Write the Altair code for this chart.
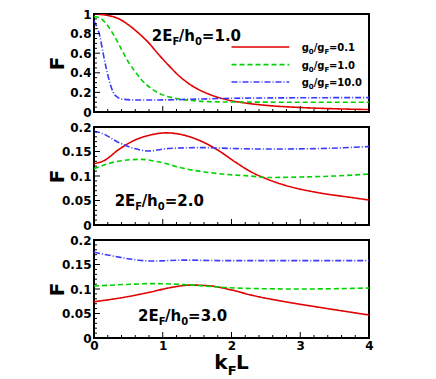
import altair as alt
import pandas as pd

# ---------------- data ----------------
series = ["0.1", "1.0", "10.0"]

x1_red = [0, 0.2, 0.35, 0.5, 0.64, 0.79, 0.93, 1.08, 1.22, 1.42, 1.61, 1.81, 2.0, 2.24, 2.5, 3.0, 3.5, 4.0]
F1_red = [1.0, 0.985, 0.955, 0.89, 0.81, 0.71, 0.595, 0.48, 0.38, 0.27, 0.2, 0.148, 0.115, 0.088, 0.068, 0.046, 0.033, 0.025]
x1_green = [0, 0.107, 0.2, 0.3, 0.4, 0.5, 0.59, 0.69, 0.84, 0.98, 1.18, 1.42, 1.66, 2.0, 3.0, 4.0]
F1_green = [0.975, 0.95, 0.88, 0.77, 0.64, 0.51, 0.42, 0.33, 0.235, 0.18, 0.14, 0.117, 0.106, 0.102, 0.1, 0.1]
x1_blue = [0, 0.034, 0.083, 0.13, 0.18, 0.23, 0.28, 0.35, 0.42, 0.59, 0.93, 1.42, 2.0, 3.0, 4.0]
F1_blue = [0.93, 0.88, 0.78, 0.61, 0.44, 0.30, 0.20, 0.147, 0.13, 0.123, 0.123, 0.13, 0.14, 0.145, 0.147]

x2_red = [0, 0.155, 0.35, 0.59, 0.83, 1.05, 1.32, 1.56, 1.8, 2.05, 2.29, 2.53, 2.78, 3.26, 3.75, 4.0]
F2_red = [0.125, 0.132, 0.153, 0.173, 0.184, 0.188, 0.183, 0.171, 0.153, 0.129, 0.108, 0.093, 0.081, 0.066, 0.056, 0.051]
x2_green = [0, 0.35, 0.69, 0.93, 1.32, 1.8, 2.29, 2.53, 3.02, 3.5, 4.0]
F2_green = [0.115, 0.130, 0.134, 0.129, 0.115, 0.105, 0.0997, 0.097, 0.098, 0.1, 0.104]
x2_blue = [0, 0.1, 0.35, 0.59, 0.79, 1.08, 1.56, 2.05, 2.53, 3.26, 4.0]
F2_blue = [0.191, 0.188, 0.169, 0.156, 0.151, 0.156, 0.158, 0.156, 0.155, 0.156, 0.16]

x3_red = [0, 0.35, 0.83, 1.08, 1.42, 1.71, 2.0, 2.29, 2.78, 3.26, 4.0]
F3_red = [0.074, 0.081, 0.094, 0.102, 0.108, 0.106, 0.098, 0.0875, 0.074, 0.063, 0.047]
x3_green = [0, 0.59, 0.83, 1.32, 1.8, 2.29, 3.02, 4.0]
F3_green = [0.106, 0.11, 0.111, 0.109, 0.104, 0.101, 0.1, 0.102]
x3_blue = [0, 0.25, 0.59, 0.83, 1.32, 1.8, 2.78, 4.0]
F3_blue = [0.175, 0.168, 0.16, 0.157, 0.159, 0.158, 0.158, 0.158]

x_major = [0, 1, 2, 3, 4]
x_minor = [round(i * 0.2, 2) for i in range(21) if i % 5 != 0]
y1_major = [0, 0.2, 0.4, 0.6, 0.8, 1.0]
y1_minor = [round(i * 0.05, 3) for i in range(21) if i % 4 != 0]
y23_major = [0, 0.05, 0.1, 0.15, 0.2]
y23_minor = [round(i * 0.01, 3) for i in range(21) if i % 5 != 0]

panel_params = ["1.0", "2.0", "3.0"]

# ---------------- styling ----------------
FONT = "DejaVu Sans"
W, H = 275, 98
COLORS = ["#e00000", "#00d400", "#3a3aff"]
DASHES = [[1, 0], [5, 3], [6, 2, 1, 2]]
WIDTHS = [1.6, 1.6, 1.3]

# DejaVu Sans Bold advance widths (em)
ADV = {"0": 0.696, "1": 0.696, "2": 0.696, "3": 0.696, ".": 0.380, "=": 0.838,
       "/": 0.365, "E": 0.683, "F": 0.632, "h": 0.712, "g": 0.716, "k": 0.665, "L": 0.637}


def tw(s, size):
    return sum(ADV.get(c, 0.6) for c in s) * size


def panel(idx, xs_list, fs_list, ymax, ymaj, ymin, title_pos, show_x, legend):
    xs = alt.Scale(domain=[0, 4], nice=False, zero=False)
    ys = alt.Scale(domain=[0, ymax], nice=False, zero=False)

    if show_x:
        xaxis = alt.Axis(values=x_major, format="~g", ticks=False, domain=False, grid=False,
                         labelFont=FONT, labelFontSize=12, labelFontWeight="bold",
                         labelColor="black", labelPadding=2, labelFlush=False, title=None)
    else:
        xaxis = None
    yaxis = alt.Axis(values=ymaj, format="~g", ticks=False, domain=False, grid=False,
                     labelFont=FONT, labelFontSize=12, labelFontWeight="bold",
                     labelColor="black", labelPadding=3, labelFlush=False, title="F",
                     titleFont=FONT, titleFontSize=20, titleFontWeight="bold",
                     titleColor="black", titleX=-27, titleY=H / 2)

    def X(field):
        return alt.X(field, scale=xs, axis=xaxis)

    def Y(field):
        return alt.Y(field, scale=ys, axis=yaxis)

    def rich(segs, x, y, size, sub_size, sub_dy, center=False, ypix=None):
        total = sum(tw(t, sub_size if s else size) for t, s in segs)
        off = -total / 2 if center else 0
        out = []
        df = pd.DataFrame({"x": [x], "y": [y]})
        for t, s in segs:
            fs = sub_size if s else size
            enc = dict(x=X("x:Q"))
            enc["y"] = Y("y:Q") if ypix is None else alt.value(ypix)
            out.append(
                alt.Chart(df).mark_text(
                    text=t, align="left", baseline="alphabetic", dx=off,
                    dy=sub_dy if s else 0, font=FONT, fontSize=fs,
                    fontWeight="bold", color="black",
                ).encode(**enc)
            )
            off += tw(t, fs)
        return out

    rows = []
    for s, xv, fv in zip(series, xs_list, fs_list):
        for a, b in zip(xv, fv):
            rows.append({"s": s, "x": a, "F": b})
    df = pd.DataFrame(rows)
    col = alt.Color("s:N", scale=alt.Scale(domain=series, range=COLORS), legend=None)
    dash = alt.StrokeDash("s:N", scale=alt.Scale(domain=series, range=DASHES), legend=None)
    sw = alt.StrokeWidth("s:N", scale=alt.Scale(domain=series, range=WIDTHS), legend=None)

    lines = alt.Chart(df).mark_line(interpolate="monotone", clip=True).encode(
        x=X("x:Q"), y=Y("F:Q"),
        color=col, strokeDash=dash, strokeWidth=sw, detail="s:N",
    )
    layers = [lines]

    # inward ticks
    def yt(vals, ln):
        return alt.Chart(pd.DataFrame({"v": vals})).mark_rule(color="black", strokeWidth=1).encode(
            y=Y("v:Q"), x=alt.value(0), x2=alt.value(ln))

    def xt(vals, ln):
        return alt.Chart(pd.DataFrame({"v": vals})).mark_rule(color="black", strokeWidth=1).encode(
            x=X("v:Q"), y=alt.value(H), y2=alt.value(H - ln))

    layers += [yt(ymaj, 6), yt(ymin, 3), xt(x_major, 6), xt(x_minor, 3)]

    tx, ty = title_pos
    layers += rich([("2E", False), ("F", True), ("/h", False), ("0", True),
                    ("=" + panel_params[idx], False)], tx, ty, 15, 10, 4)

    if legend:
        ly = [0.663, 0.483, 0.306]
        ldf = pd.DataFrame({"s": series, "x": [2.0] * 3, "x2": [2.84] * 3, "y": ly})
        layers.append(alt.Chart(ldf).mark_rule().encode(
            x=X("x:Q"), x2="x2:Q", y=Y("y:Q"),
            color=col, strokeDash=dash, strokeWidth=sw))
        for s, yy in zip(series, ly):
            layers += rich([("g", False), ("0", True), ("/g", False), ("F", True),
                            ("=" + s, False)], 3.02, yy - 0.041, 10, 7, 3)

    if show_x:
        layers += rich([("k", False), ("F", True), ("L", False)], 2.0, 0,
                       20, 13, 6, center=True, ypix=H + 31)

    return alt.layer(*layers).properties(width=W, height=H)


p1 = panel(0, [x1_red, x1_green, x1_blue], [F1_red, F1_green, F1_blue], 1.0,
           y1_major, y1_minor, (0.84, 0.728), False, True)
p2 = panel(1, [x2_red, x2_green, x2_blue], [F2_red, F2_green, F2_blue], 0.2,
           y23_major, y23_minor, (0.30, 0.039), False, False)
p3 = panel(2, [x3_red, x3_green, x3_blue], [F3_red, F3_green, F3_blue], 0.2,
           y23_major, y23_minor, (0.64, 0.035), True, False)

chart = alt.vconcat(p1, p2, p3, spacing=15, bounds="flush").properties(
    padding={"left": 38, "top": -1, "right": 5, "bottom": 0}
).configure_view(stroke="black", strokeWidth=2)

chart.save("out.html", embed_options={"renderer": "svg", "actions": False})
